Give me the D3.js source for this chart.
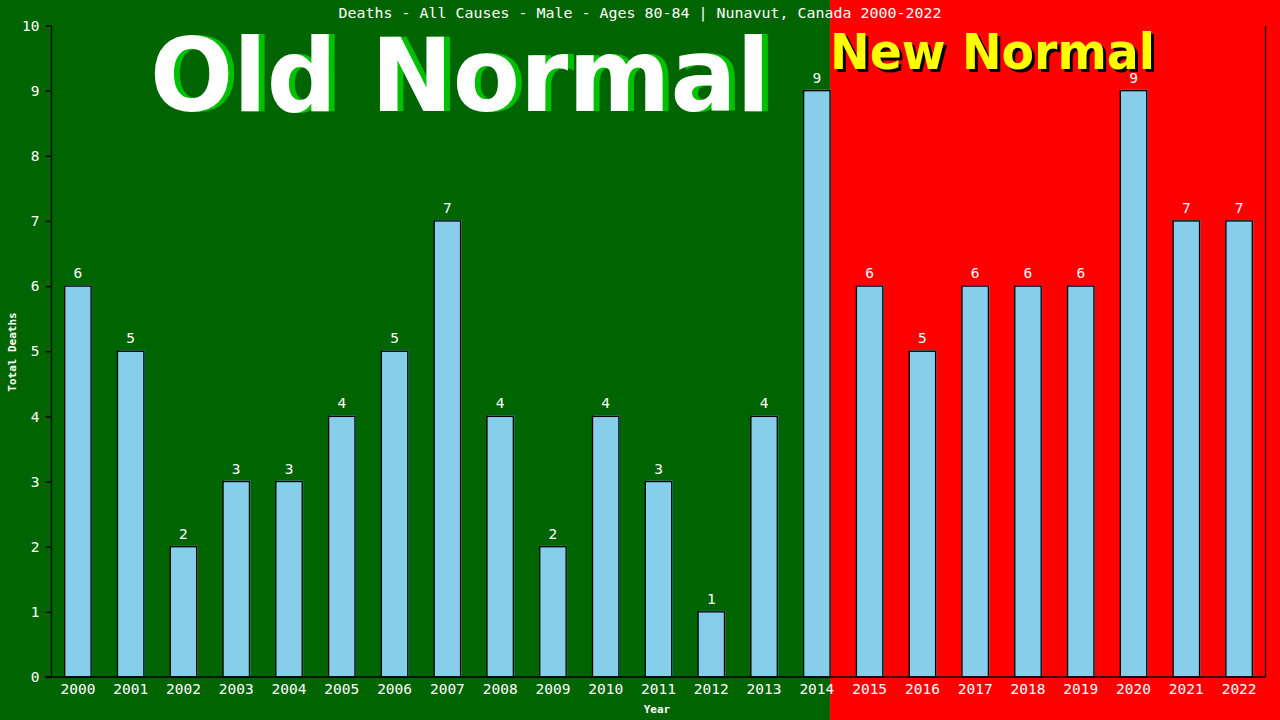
<!DOCTYPE html>
<html><head><meta charset="utf-8">
<script src="https://cdn.jsdelivr.net/npm/d3@7"></script>
<style>html,body{margin:0;padding:0;background:#fff;}svg{display:block;}</style>
</head><body>
<svg id="c" width="1280" height="720"></svg>
<script>
const years = ["2000","2001","2002","2003","2004","2005","2006","2007","2008","2009","2010","2011","2012","2013","2014","2015","2016","2017","2018","2019","2020","2021","2022"];
const deaths = [6,5,2,3,3,4,5,7,4,2,4,3,1,4,9,6,5,6,6,6,9,7,7];
const yTicks = [0,1,2,3,4,5,6,7,8,9,10];
const oldNormalEnd = "2014";
const titleText = "Deaths - All Causes - Male - Ages 80-84 | Nunavut, Canada 2000-2022";

const W = 1280, H = 720;
const m = {l:51.5, r:14.5, t:25.5, b:43};
const svg = d3.select("#c");
const x = d3.scaleBand().domain(years).range([m.l, W - m.r]).paddingInner(0.5).paddingOuter(0.25);
const y = d3.scaleLinear().domain([0,10]).range([H - m.b, m.t]);
const mono = "'DejaVu Sans Mono', 'Liberation Mono', monospace";

const split = x(oldNormalEnd) + x.bandwidth();
svg.append("rect").attr("x",0).attr("y",0).attr("width",split).attr("height",H).attr("fill","#006400");
svg.append("rect").attr("x",split).attr("y",0).attr("width",W-split).attr("height",H).attr("fill","#ff0000");

// Big labels
const bold = "'DejaVu Sans', Verdana, sans-serif";
svg.append("text").attr("x",156).attr("y",111).attr("font-family",bold).attr("font-weight","bold")
  .attr("font-size",102).attr("textLength",620).attr("lengthAdjust","spacingAndGlyphs").attr("fill","#00c000").text("Old Normal");
svg.append("text").attr("x",150).attr("y",111).attr("font-family",bold).attr("font-weight","bold")
  .attr("font-size",102).attr("textLength",620).attr("lengthAdjust","spacingAndGlyphs").attr("fill","#ffffff").text("Old Normal");
svg.append("text").attr("x",833).attr("y",72).attr("font-family",bold).attr("font-weight","bold")
  .attr("font-size",50).attr("textLength",325).attr("lengthAdjust","spacingAndGlyphs").attr("fill","#000").text("New Normal");
svg.append("text").attr("x",830).attr("y",69).attr("font-family",bold).attr("font-weight","bold")
  .attr("font-size",50).attr("textLength",325).attr("lengthAdjust","spacingAndGlyphs").attr("fill","#ffff00").text("New Normal");

// Title
svg.append("text").attr("x",640).attr("y",18).attr("text-anchor","middle").attr("font-family",mono)
  .attr("font-size",14).attr("textLength",603).attr("lengthAdjust","spacingAndGlyphs").attr("fill","#fff").text(titleText);

// Bars
const g = svg.append("g");
g.selectAll("rect.sh").data(deaths).join("rect").attr("class","sh")
  .attr("x",(d,i)=>x(years[i])+1).attr("y",d=>y(d)-1)
  .attr("width",x.bandwidth()).attr("height",d=>y(0)-y(d)+1).attr("fill","#5b9bc8");
g.selectAll("rect.b").data(deaths).join("rect").attr("class","b")
  .attr("x",(d,i)=>x(years[i])).attr("y",d=>y(d))
  .attr("width",x.bandwidth()).attr("height",d=>y(0)-y(d))
  .attr("fill","#87ceeb").attr("stroke","#000").attr("stroke-width",1.3);
g.selectAll("text.v").data(deaths).join("text").attr("class","v")
  .attr("x",(d,i)=>x(years[i])+x.bandwidth()/2).attr("y",d=>y(d)-8)
  .attr("text-anchor","middle").attr("font-family",mono).attr("font-size",14.5).attr("fill","#fff").text(d=>d);

// Axes
const ya = svg.append("g").attr("transform",`translate(${m.l},0)`)
  .call(d3.axisLeft(y).tickValues(yTicks).tickSize(6).tickPadding(6).tickFormat(d3.format("d")));
const xa = svg.append("g").attr("transform",`translate(0,${H-m.b})`)
  .call(d3.axisBottom(x).tickSize(0).tickPadding(7));
[ya,xa].forEach(a=>{
  a.selectAll("path,line").attr("stroke","#000").attr("stroke-width",1.3);
  a.selectAll("text").attr("fill","#fff").attr("font-family",mono).attr("font-size",14.5);
});
ya.select("path.domain").attr("d",`M-6,${H-m.b}H0V${m.t}`);
xa.select("path.domain").attr("d",`M${m.l-6},0H${W-m.r}`);
svg.append("line").attr("x1",W-m.r).attr("x2",W-m.r).attr("y1",m.t).attr("y2",H-m.b).attr("stroke","#000").attr("stroke-width",1.3);

svg.append("text").attr("x",657).attr("y",713).attr("text-anchor","middle").attr("font-family",mono)
  .attr("font-weight","bold").attr("font-size",11).attr("fill","#fff").text("Year");
svg.append("text").attr("transform","translate(16,352) rotate(-90)").attr("text-anchor","middle").attr("font-family",mono)
  .attr("font-weight","bold").attr("font-size",11).attr("fill","#fff").text("Total Deaths");
</script>
</body></html>
